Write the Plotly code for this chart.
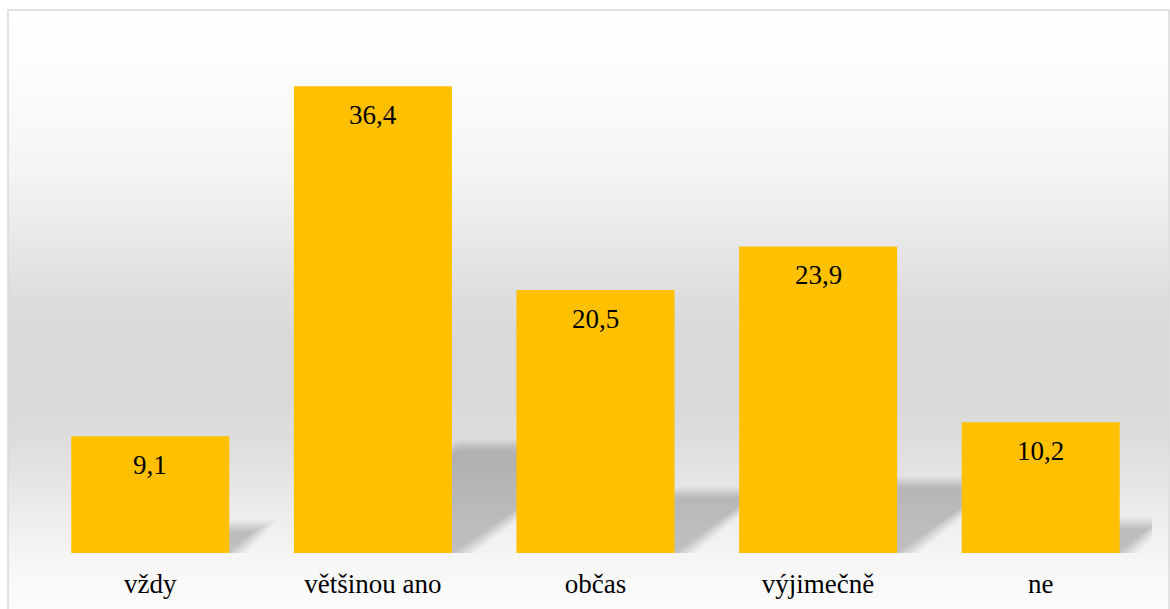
import plotly.graph_objects as go

# Survey answers and their shares (%)
categories = ["vždy", "většinou ano", "občas", "výjimečně", "ne"]
values = [9.1, 36.4, 20.5, 23.9, 10.2]
value_labels = [f"{v:.1f}".replace(".", ",") for v in values]

BAR_COLOR = "#FFC000"
FONT = "Times New Roman, Liberation Serif, Tinos, DejaVu Serif, serif"

W, H = 1170, 609
M_L, M_R, M_T, M_B = 39, 18, 40, 56
Y_MAX = 40
BAR_WIDTH = 0.71

plot_w = W - M_L - M_R
plot_h = H - M_T - M_B
px_per_x = plot_w / len(categories)
px_per_y = plot_h / Y_MAX


def paper_x(px):
    return (px - M_L) / plot_w


def paper_y(py):
    return (H - M_B - py) / plot_h


shapes = []

# Vertical grey gradient of the chart area, built from thin strips
grad_stops = [(10, 255), (60, 253), (120, 249), (180, 243), (240, 232),
              (300, 221), (340, 217), (400, 217), (440, 221), (480, 229),
              (520, 238), (560, 246), (609, 252)]


def grey_at(py):
    for (y0, g0), (y1, g1) in zip(grad_stops, grad_stops[1:]):
        if y0 <= py <= y1:
            t = (py - y0) / (y1 - y0)
            return g0 + (g1 - g0) * t
    return grad_stops[-1][1]


strip = 3
py = 10
while py < H:
    g = round(grey_at(py + strip / 2))
    shapes.append(dict(
        type="rect", xref="paper", yref="paper", layer="below",
        x0=paper_x(8), x1=paper_x(1169),
        y0=paper_y(py), y1=paper_y(min(py + strip + 1, H + 5)),
        fillcolor=f"rgb({g},{g},{g})", line=dict(width=0),
    ))
    py += strip

# Soft perspective shadows cast behind each bar (stacked translucent layers)
SHADOW_RATIO = 0.231     # shadow height relative to bar height
SHADOW_SLOPE = 0.66      # rise over run of the slanted shadow edge
spread = list(range(-12, 13, 2))
for i, v in enumerate(values):
    hs_px = SHADOW_RATIO * v * px_per_y
    dx_px = hs_px / SHADOW_SLOPE
    xl = i - BAR_WIDTH / 2
    xr = i + BAR_WIDTH / 2
    for e in spread:
        top = max(hs_px + e * 0.5, 2)
        p = [
            (xl, -1),
            (xr + (e - 5) / px_per_x, -1),
            (xr + (dx_px + e - 5) / px_per_x, top / px_per_y),
            (xl + dx_px / px_per_x, top / px_per_y),
        ]
        path = "M " + " L ".join(f"{x:.5f},{y:.5f}" for x, y in p) + " Z"
        shapes.append(dict(
            type="path", xref="x", yref="y", layer="below", path=path,
            fillcolor="rgba(0,0,0,0.015)", line=dict(width=0),
        ))

# Outer frame of the chart area
shapes.append(dict(
    type="rect", xref="paper", yref="paper", layer="above",
    x0=paper_x(8), x1=paper_x(1169), y0=paper_y(10), y1=paper_y(H + 10),
    line=dict(color="#d9d9d9", width=1.5), fillcolor="rgba(0,0,0,0)",
))

fig = go.Figure()
fig.add_trace(go.Bar(
    x=list(range(len(categories))), y=values,
    width=BAR_WIDTH,
    marker=dict(color=BAR_COLOR, line=dict(width=0)),
    hoverinfo="skip",
))

annotations = [
    dict(x=i, y=v, xref="x", yref="y", text=lab, showarrow=False,
         yanchor="top", yshift=-12,
         font=dict(family=FONT, size=27, color="#000000"))
    for i, (v, lab) in enumerate(zip(values, value_labels))
]

fig.update_layout(
    width=W, height=H,
    margin=dict(l=M_L, r=M_R, t=M_T, b=M_B, pad=0, autoexpand=False),
    paper_bgcolor="white",
    plot_bgcolor="rgba(0,0,0,0)",
    showlegend=False,
    font=dict(family=FONT),
    shapes=shapes,
    annotations=annotations,
    xaxis=dict(
        range=[-0.5, len(categories) - 0.5],
        tickmode="array",
        tickvals=list(range(len(categories))),
        ticktext=categories,
        tickfont=dict(family=FONT, size=27, color="#000000"),
        ticklabelstandoff=12,
        automargin=False,
        showgrid=False, zeroline=False, showline=False, ticks="",
        fixedrange=True,
    ),
    yaxis=dict(
        range=[0, Y_MAX], visible=False, showgrid=False, zeroline=False,
        automargin=False, fixedrange=True,
    ),
)

fig.write_html("out.html", config={"displayModeBar": False})
